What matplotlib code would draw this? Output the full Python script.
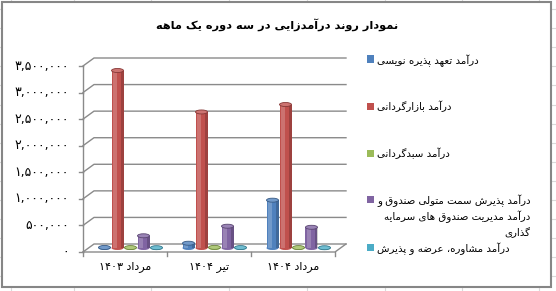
import re
import matplotlib
matplotlib.use("Agg")
import matplotlib.pyplot as plt
from matplotlib.patches import Rectangle, Ellipse
from matplotlib.lines import Line2D
import matplotlib.colors as mcolors
import numpy as np

# ---------------- data ----------------
title = "نمودار روند درآمدزایی در سه دوره یک ماهه"
categories = ["مرداد ۱۴۰۳", "تیر ۱۴۰۴", "مرداد ۱۴۰۴"]
series_names = [
    "درآمد تعهد پذیره نویسی",
    "درآمد بازارگردانی",
    "درآمد سبدگردانی",
    "درآمد پذیرش سمت متولی صندوق و\nدرآمد مدیریت صندوق های سرمایه\nگذاری",
    "درآمد مشاوره، عرضه و پذیرش",
]
s_underwriting = [10000, 90000, 900000]
s_market_making = [3340000, 2560000, 2700000]
s_portfolio = [8000, 12000, 8000]
s_fund_mgmt = [230000, 410000, 390000]
s_advisory = [6000, 8000, 5000]
series_values = [s_underwriting, s_market_making, s_portfolio, s_fund_mgmt, s_advisory]
colors = ["#4F81BD", "#C0504D", "#9BBB59", "#8064A2", "#4BACC6"]
y_ticks = [0, 500000, 1000000, 1500000, 2000000, 2500000, 3000000, 3500000]
y_tick_labels = ["۰", "۵۰۰,۰۰۰", "۱,۰۰۰,۰۰۰", "۱,۵۰۰,۰۰۰", "۲,۰۰۰,۰۰۰",
                 "۲,۵۰۰,۰۰۰", "۳,۰۰۰,۰۰۰", "۳,۵۰۰,۰۰۰"]

# ------------- minimal Persian shaping (presentation forms + visual order) -------------
FORMS = {
    'ا': ('\uFE8D', '\uFE8E', None, None),
    'آ': ('\uFE81', '\uFE82', None, None),
    'ب': ('\uFE8F', '\uFE90', '\uFE91', '\uFE92'),
    'پ': ('\uFB56', '\uFB57', '\uFB58', '\uFB59'),
    'ت': ('\uFE95', '\uFE96', '\uFE97', '\uFE98'),
    'د': ('\uFEA9', '\uFEAA', None, None),
    'ذ': ('\uFEAB', '\uFEAC', None, None),
    'ر': ('\uFEAD', '\uFEAE', None, None),
    'ز': ('\uFEAF', '\uFEB0', None, None),
    'س': ('\uFEB1', '\uFEB2', '\uFEB3', '\uFEB4'),
    'ش': ('\uFEB5', '\uFEB6', '\uFEB7', '\uFEB8'),
    'ص': ('\uFEB9', '\uFEBA', '\uFEBB', '\uFEBC'),
    'ض': ('\uFEBD', '\uFEBE', '\uFEBF', '\uFEC0'),
    'ع': ('\uFEC9', '\uFECA', '\uFECB', '\uFECC'),
    'ق': ('\uFED5', '\uFED6', '\uFED7', '\uFED8'),
    'ک': ('\uFB8E', '\uFB8F', '\uFB90', '\uFB91'),
    'گ': ('\uFB92', '\uFB93', '\uFB94', '\uFB95'),
    'ل': ('\uFEDD', '\uFEDE', '\uFEDF', '\uFEE0'),
    'م': ('\uFEE1', '\uFEE2', '\uFEE3', '\uFEE4'),
    'ن': ('\uFEE5', '\uFEE6', '\uFEE7', '\uFEE8'),
    'و': ('\uFEED', '\uFEEE', None, None),
    'ه': ('\uFEE9', '\uFEEA', '\uFEEB', '\uFEEC'),
    'ی': ('\uFBFC', '\uFBFD', '\uFBFE', '\uFBFF'),
}


def shape_line(s):
    out = []
    n = len(s)
    for i, c in enumerate(s):
        if c not in FORMS:
            out.append(c)
            continue
        prev = s[i - 1] if i > 0 else ''
        nxt = s[i + 1] if i < n - 1 else ''
        jp = prev in FORMS and FORMS[prev][2] is not None
        jn = FORMS[c][2] is not None and nxt in FORMS
        f = FORMS[c]
        if jp and jn:
            out.append(f[3])
        elif jp:
            out.append(f[1])
        elif jn:
            out.append(f[2])
        else:
            out.append(f[0])
    shaped = ''.join(out)
    tokens = re.findall(r'[\u06F0-\u06F9]+|[^\u06F0-\u06F9]+', shaped)
    return ''.join(t if re.match(r'[\u06F0-\u06F9]', t) else t[::-1]
                   for t in reversed(tokens))


def shape(s):
    return '\n'.join(shape_line(l) for l in s.split('\n'))


plt.rcParams['font.family'] = ['DejaVu Sans']

W, H = 556, 291
fig = plt.figure(figsize=(W / 100, H / 100), dpi=100)
fig.patch.set_facecolor('white')

# Excel cell grid behind the chart
for xv in [11, 74, 151, 229, 307, 385, 462, 539]:
    fig.add_artist(Line2D([xv / W, xv / W], [0, 1], color='#dadada', lw=0.8, zorder=-3))
for k in range(16):
    yv = 9 + 19.1 * k
    fig.add_artist(Line2D([0, 1], [1 - yv / H, 1 - yv / H], color='#dadada', lw=0.8,
                          zorder=-3))
# chart area
fig.add_artist(Rectangle((2 / W, 1 - 287 / H), 549 / W, 285 / H, facecolor='white',
                         edgecolor='#868686', lw=1.5, transform=fig.transFigure,
                         zorder=-2))

# plot axes (front plane)
x0, x1, yb, yt = 83, 335, 252, 66
ax = fig.add_axes([x0 / W, 1 - yb / H, (x1 - x0) / W, (yb - yt) / H])
ax.set_zorder(1)
ax.patch.set_visible(False)
ax.set_xlim(-0.5, 2.5)
ax.set_ylim(0, 3500000)
ax.axis('off')

px_x = 3.0 / (x1 - x0)
px_y = 3500000 / (yb - yt)
DX, DY = 11 * px_x, 8 * px_y  # depth offsets
gcol = '#8a8a8a'

# walls & gridlines
for v in y_ticks:
    ax.plot([-0.5, -0.5 + DX, 2.5 + DX], [v, v + DY, v + DY], color=gcol, lw=1.0,
            clip_on=False, zorder=1)
    ax.plot([-0.5 - 4 * px_x, -0.5], [v, v], color=gcol, lw=1.0, clip_on=False, zorder=1)
ax.plot([-0.5, -0.5], [0, 3500000], color=gcol, lw=1.0, clip_on=False, zorder=1)
ax.plot([-0.5, 2.5, 2.5 + DX], [0, 0, DY], color=gcol, lw=1.0, clip_on=False, zorder=1)
for b in [-0.5, 0.5, 1.5, 2.5]:
    ax.plot([b, b], [0, -4 * px_y], color=gcol, lw=1.0, clip_on=False, zorder=1)

# y tick labels
for v, lab in zip(y_ticks, y_tick_labels):
    ax.text(-0.5 - 14 * px_x, v, lab, ha='right', va='center', fontsize=9,
            color='black', clip_on=False)
# category labels
for i, c in enumerate(categories):
    ax.text(i, -15 * px_y, shape(c), ha='center', va='center', fontsize=8, clip_on=False)

# cylinders
cat_x = np.arange(len(categories))
step = 13 * px_x
bw = 12 * px_x
eh = 4 * px_y
for j, (vals, col) in enumerate(zip(series_values, colors)):
    xs = cat_x + (j - 2) * step + DX / 2
    base = DY / 2
    dark = np.array(mcolors.to_rgb(col)) * 0.7
    light = np.array(mcolors.to_rgb(col)) * 0.8 + 0.2
    ax.bar(xs, vals, width=bw, bottom=base, color=col, edgecolor='none',
           zorder=3, clip_on=False)
    ax.bar(xs - 0.22 * bw, vals, width=0.3 * bw, bottom=base, color='white',
           alpha=0.2, edgecolor='none', zorder=3.1, clip_on=False)
    ax.bar(xs + 0.38 * bw, vals, width=0.24 * bw, bottom=base, color='black',
           alpha=0.18, edgecolor='none', zorder=3.1, clip_on=False)
    for xx, v in zip(xs, vals):
        ax.add_patch(Ellipse((xx, base), bw, eh, facecolor=col, edgecolor='none',
                             zorder=2.9, clip_on=False))
        ax.add_patch(Ellipse((xx, base + v), bw, eh, facecolor=light, edgecolor=dark,
                             lw=0.6, zorder=3.2, clip_on=False))

# title
fig.text(277 / W, 1 - 25 / H, shape(title), ha='center', va='center', fontsize=8.2,
         fontweight='bold')

# legend
leg_y = [59, 106, 153, 199, 247]
for name, col, yy in zip(series_names, colors, leg_y):
    fig.add_artist(Rectangle((367 / W, 1 - (yy + 3.5) / H), 7 / W, 7 / H,
                             facecolor=col, edgecolor='none', transform=fig.transFigure,
                             zorder=5))
    fig.text(377 / W, 1 - (yy - 5) / H, shape(name), ha='left', va='top', fontsize=7.4,
             multialignment='right', linespacing=1.45)

fig.savefig('out.png', dpi=100, facecolor='white')
